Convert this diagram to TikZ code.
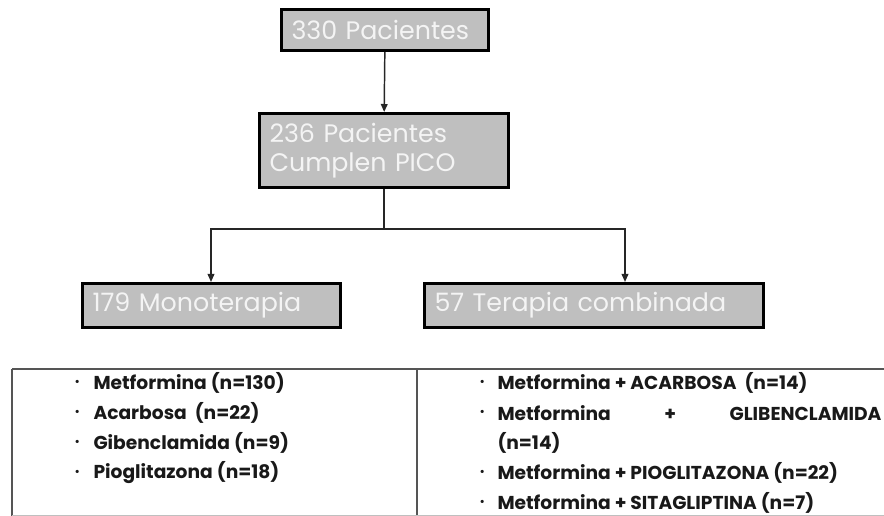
\documentclass[tikz,border=0pt]{standalone}
\usepackage{fontspec}
\setmainfont{Poppins}
\usetikzlibrary{arrows.meta}

\definecolor{boxgray}{HTML}{BFBFBF}
\definecolor{boxtext}{HTML}{F4F4F4}
\definecolor{rulegray}{HTML}{555555}

\tikzset{every picture/.style={line width=0.75pt}}
\tikzset{
  grayBox/.style={draw=black, line width=2.25pt, fill=boxgray, text=boxtext,
    anchor=north west, inner xsep=7.5pt, inner ysep=0pt, align=left,
    font=\fontsize{19}{22}\selectfont},
  linkArrow/.style={draw=black!85, line width=1.1pt, -{Triangle[length=6pt,width=5pt]}},
  listItem/.style={anchor=west, inner sep=0pt, text=black!90,
    font=\fontsize{14}{16}\selectfont\bfseries}
}

\begin{document}
\begin{tikzpicture}[x=0.75pt,y=0.75pt,yscale=-1,xscale=1]
\useasboundingbox (0,0) rectangle (884,516);
\clip (0,0) rectangle (884,516);

% Text Node
\node (pac) [grayBox, text width=140pt, minimum height=30.75pt] at (280,8) {330 Pacientes};
% Text Node
\node (pico) [grayBox, text width=172pt, minimum height=55.5pt] at (258,112) {236 Pacientes\\Cumplen PICO};
% Text Node
\node (mono) [grayBox, text width=178.5pt, minimum height=33pt] at (81,282) {179 Monoterapia};
% Text Node
\node (comb) [grayBox, text width=239.25pt, minimum height=33pt] at (423,282) {57 Terapia combinada};

%Straight Lines
\draw [linkArrow] (pac.south) -- (pico.north);
%Split connector
\coordinate (split) at (pico.south |- 0,229);
\draw [draw=black!85, line width=1.1pt] (pico.south) -- (split);
\draw [linkArrow] (split) -| (mono.north -| 211,0);
\draw [linkArrow] (split) -| (comb.north -| 625,0);

%Table rules
\draw [rulegray, line width=1.5pt] (12,369) -- (884,369);
\draw [rulegray, line width=1.5pt] (12,369) -- (12,516);
\draw [rulegray, line width=1.5pt] (417,369) -- (417,516);
\draw [black!25, line width=0.75pt] (12,515.5) -- (884,515.5);

%Monoterapia list
\foreach \y/\txt/\nm in {383/Metformina (n=130)/mA, 413/Acarbosa\ \ (n=22)/mB,
    443/Gibenclamida (n=9)/mC, 473/Pioglitazona (n=18)/mD} {
  \node (\nm dot) [listItem] at (74,\y) {\footnotesize\textbullet};
  \node (\nm) [listItem] at (93,\y) {\txt};
}

%Terapia combinada list
\foreach \y/\txt/\nm in {383/Metformina + ACARBOSA\ \ (n=14)/cA,
    473/Metformina + PIOGLITAZONA (n=22)/cC, 503/Metformina + SITAGLIPTINA (n=7)/cD} {
  \node (\nm dot) [listItem] at (479,\y) {\footnotesize\textbullet};
  \node (\nm) [listItem] at (497,\y) {\txt};
}
\node (cBdot) [listItem] at (479,413) {\footnotesize\textbullet};
\node (cB) [listItem] at (497,413) {\makebox[288pt][l]{Metformina\hfill+\hfill GLIBENCLAMIDA}};
\node (cBn) [listItem] at (497,443) {(n=14)};

\end{tikzpicture}
\end{document}
